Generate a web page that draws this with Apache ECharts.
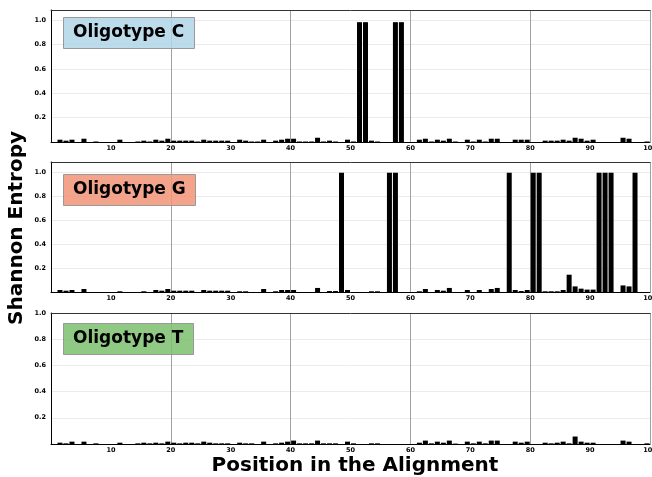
<!DOCTYPE html>
<html>
<head>
<meta charset="utf-8">
<script src="https://cdn.jsdelivr.net/npm/echarts@6/dist/echarts.min.js"></script>
<style>
* { margin: 0; padding: 0; }
html, body { width: 652px; height: 477px; background: #fff; }
#chart { width: 652px; height: 477px; }
</style>
</head>
<body>
<div id="chart"></div>
<script>
// position in the alignment = index + 1
const oligoC = [
  0, 0.019, 0.011, 0.019, 0, 0.027, 0, 0.004, 0, 0,
  0, 0.019, 0, 0, 0.004, 0.011, 0.004, 0.019, 0.011, 0.027,
  0.011, 0.011, 0.011, 0.011, 0.004, 0.019, 0.011, 0.011, 0.011, 0.011,
  0, 0.019, 0.011, 0.004, 0.004, 0.019, 0, 0.011, 0.019, 0.027,
  0.027, 0.004, 0.004, 0.004, 0.035, 0.004, 0.011, 0.004, 0, 0.019,
  0.004, 0.985, 0.985, 0.011, 0.004, 0, 0, 0.985, 0.985, 0,
  0, 0.019, 0.027, 0.004, 0.019, 0.011, 0.027, 0.004, 0, 0.019,
  0.004, 0.019, 0.004, 0.027, 0.027, 0, 0, 0.019, 0.019, 0.019,
  0, 0, 0.011, 0.011, 0.011, 0.019, 0.011, 0.035, 0.027, 0.011,
  0.019, 0, 0, 0, 0, 0.035, 0.027, 0, 0, 0.004
];
const oligoG = [
  0, 0.017, 0.011, 0.017, 0, 0.025, 0, 0, 0, 0,
  0, 0.006, 0, 0, 0, 0.006, 0, 0.017, 0.011, 0.025,
  0.011, 0.011, 0.011, 0.011, 0, 0.017, 0.011, 0.011, 0.011, 0.011,
  0, 0.006, 0.006, 0, 0, 0.025, 0, 0.006, 0.017, 0.017,
  0.017, 0, 0, 0, 0.034, 0, 0.008, 0.008, 1.0, 0.017,
  0, 0, 0, 0.006, 0.006, 0, 1.0, 1.0, 0, 0,
  0, 0.006, 0.025, 0, 0.017, 0.011, 0.034, 0, 0, 0.017,
  0, 0.017, 0, 0.025, 0.034, 0, 1.0, 0.017, 0.008, 0.017,
  1.0, 1.0, 0.006, 0.006, 0.006, 0.017, 0.145, 0.047, 0.028, 0.02,
  0.02, 1.0, 1.0, 1.0, 0, 0.055, 0.047, 1.0, 0, 0
];
const oligoT = [
  0, 0.01, 0.005, 0.018, 0, 0.018, 0, 0.005, 0, 0,
  0, 0.01, 0, 0, 0.005, 0.01, 0.005, 0.01, 0.005, 0.018,
  0.01, 0.005, 0.01, 0.01, 0.005, 0.018, 0.01, 0.005, 0.005, 0.005,
  0, 0.01, 0.005, 0.005, 0, 0.018, 0, 0.005, 0.01, 0.018,
  0.026, 0.005, 0.005, 0.005, 0.026, 0.005, 0.005, 0.005, 0, 0.018,
  0.005, 0, 0, 0.005, 0.005, 0, 0, 0, 0, 0,
  0, 0.01, 0.026, 0.005, 0.018, 0.01, 0.026, 0.003, 0, 0.018,
  0.005, 0.018, 0.005, 0.026, 0.026, 0, 0, 0.018, 0.01, 0.018,
  0, 0, 0.01, 0.005, 0.01, 0.018, 0.005, 0.057, 0.018, 0.01,
  0.01, 0, 0, 0, 0, 0.026, 0.018, 0, 0, 0.005
];

const panelNames = ["Oligotype C", "Oligotype G", "Oligotype T"];
const panelColors = ["rgba(178,214,232,0.85)", "rgba(241,148,118,0.85)", "rgba(124,192,110,0.85)"];
const panelData = [oligoC, oligoG, oligoT];
const yMax = [1.085, 1.09, 1.0];
const yTicks = [0.2, 0.4, 0.6, 0.8, 1.0];

const gridTops = [10, 162, 313];
const gridHeights = [132, 130, 131];
const boxTops = [17, 174, 323];

const FONT = "DejaVu Sans";

let chart = echarts.init(document.getElementById("chart"));

let grids = [], xAxes = [], yAxes = [], series = [], titles = [];
panelData.forEach((vals, i) => {
  grids.push({ left: 51, right: 2, top: gridTops[i], height: gridHeights[i], outerBoundsMode: "none" });
  // bottom axis with labels
  xAxes.push({
    type: "value", gridIndex: i, min: 0, max: 100, interval: 10,
    axisLine: { show: true, lineStyle: { color: "#000", width: 1 } },
    axisTick: { show: false },
    splitLine: { show: false },
    axisLabel: {
      color: "#000", fontFamily: FONT, fontWeight: "bold", fontSize: 6.5, margin: 3,
      formatter: v => (v === 0 ? "" : String(v))
    }
  });
  // top border + vertical grid lines every 20
  xAxes.push({
    type: "value", gridIndex: i, position: "top", min: 0, max: 100, interval: 20,
    axisLine: { show: true, lineStyle: { color: "#333", width: 1 } },
    axisTick: { show: false },
    axisLabel: { show: false },
    splitLine: { show: true, lineStyle: { color: "#a0a0a0", width: 1 } }
  });
  yAxes.push({
    type: "value", gridIndex: i, min: 0, max: yMax[i], interval: 0.2,
    axisLine: { show: true, lineStyle: { color: "#000", width: 1 } },
    axisTick: { show: false },
    splitLine: { show: true, lineStyle: { color: "#ebebeb", width: 1 } },
    axisLabel: {
      color: "#000", fontFamily: FONT, fontWeight: "bold", fontSize: 6.5, margin: 5,
      formatter: v => (yTicks.some(t => Math.abs(t - v) < 1e-6) ? v.toFixed(1) : "")
    }
  });
  series.push({
    type: "bar",
    xAxisIndex: 2 * i,
    yAxisIndex: i,
    barWidth: 5,
    itemStyle: { color: "#000" },
    // bar for position p covers [p-1, p]
    data: vals.map((v, k) => [k + 0.5, v]),
    silent: true
  });
  titles.push({
    text: panelNames[i],
    left: 63,
    top: boxTops[i],
    padding: [5, 10],
    backgroundColor: panelColors[i],
    borderColor: "#999",
    borderWidth: 1,
    textStyle: { fontFamily: FONT, fontWeight: "bold", fontSize: 17, lineHeight: 22, color: "#000" }
  });
});

chart.setOption({
  animation: false,
  title: titles,
  grid: grids,
  xAxis: xAxes,
  yAxis: yAxes,
  series: series,
  graphic: [
    {
      type: "text", x: 17, y: 228, rotation: Math.PI / 2,
      style: {
        text: "Shannon Entropy", fill: "#000",
        font: "bold 20px 'DejaVu Sans'", align: "center", verticalAlign: "middle"
      }
    },
    {
      type: "text", x: 355, y: 466,
      style: {
        text: "Position in the Alignment", fill: "#000",
        font: "bold 20px 'DejaVu Sans'", align: "center", verticalAlign: "middle"
      }
    }
  ]
});
</script>
</body>
</html>
